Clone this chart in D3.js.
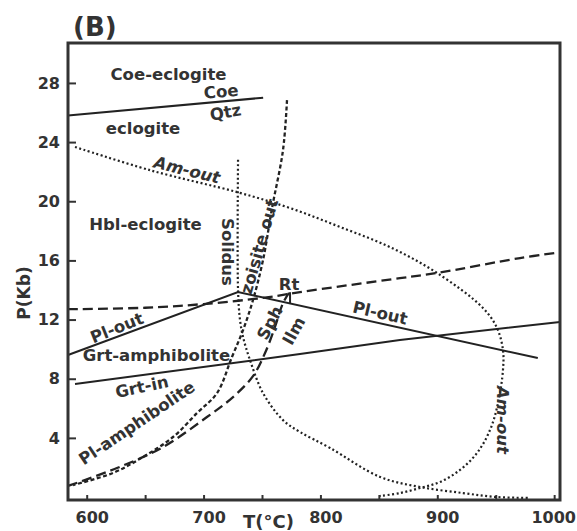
<!DOCTYPE html>
<html>
<head>
<meta charset="utf-8">
<script src="https://cdn.jsdelivr.net/npm/d3@7"></script>
<style>
  body { margin: 0; background: #fff; }
  text { font-family: "DejaVu Sans", sans-serif; font-weight: bold; fill: #333; }
</style>
</head>
<body>
<div id="chart"></div>
<script>
// reaction curves, points are [T (°C), P (kbar)]
const coeQtz = [[584, 25.8], [751, 27.0]];
const plOut = [[584, 9.6], [729.5, 13.86], [986, 9.4]];
const grtIn = [[590, 7.64], [782.5, 9.67], [868, 10.62], [1005, 11.84]];
const rtOut = [[584, 12.7], [650, 12.8], [700, 13.05], [754, 13.5], [782.5, 13.86],
               [868, 14.8], [899.8, 15.15], [970.8, 16.16], [1005, 16.55]];
const sphIlm = [[584, 0.75], [625.9, 1.96], [665.3, 3.38], [702.9, 5.41], [725.2, 6.76],
                [742.3, 8.18], [752.6, 9.74], [761.1, 11.5], [768, 13.12], [773.1, 13.8]];
const rtTick = [[774, 13.85], [774, 13.05]];
const zoisiteOut = [[771.4, 26.84], [768, 23.47], [758.6, 19.54], [750.9, 16.03], [742.3, 13.32],
                    [733.8, 11.29], [724.3, 9.47], [711.5, 7.03], [694.4, 5.68], [673.9, 4.06],
                    [648.2, 2.71], [622.5, 1.63], [588.3, 0.81]];
const solidus = [[729.5, 22.8], [729.5, 14.0], [731.2, 11.97], [733.8, 10.82], [739.7, 9.27],
                 [750.9, 7.03], [768, 5.2], [782.5, 4.4], [808.2, 3.32], [851, 1.36],
                 [885.2, 0.68], [922, 0.27], [951, 0.0], [979.3, -0.06]];
const amOut = [[590, 23.67], [654.2, 22.1], [729.5, 20.6], [774, 19.54], [816.8, 18.26],
               [859.5, 16.9], [899.8, 15.15], [939.1, 12.78], [951.1, 11.43], [956.2, 9.94],
               [956.2, 8.59], [952, 6.36], [945.1, 4.53], [934, 2.98], [919.4, 1.83],
               [902.3, 1.02], [885.2, 0.61], [868.1, 0.27], [851, 0.07]];

// field and curve labels: [text, T, P]
const labels = [["Coe-eclogite", 670, 28.6], ["eclogite", 648.2, 24.95],
                ["Hbl-eclogite", 650.3, 18.46], ["Grt-amphibolite", 659.7, 9.54], ["Rt", 773.1, 14.4]];
const tiltedLabels = [["Coe", 715, 27.4, -5], ["Qtz", 718.8, 26.0, -10], ["Solidus", 720.9, 16.57, 90],
                      ["zoisite out", 747.9, 16.94, -74], ["Sph", 756.9, 11.77, -62], ["Ilm", 777.4, 11.23, -61],
                      ["Pl-out", 625.9, 11.43, -22], ["Pl-out", 851, 12.44, 13], ["Grt-in", 647.3, 7.44, -12],
                      ["Pl-amphibolite", 643, 5.0, -34]];
const italicLabels = [["Am-out", 685.8, 22.1, 14], ["Am-out", 956.2, 5.21, 90]];

const xTicks = [600, 650, 700, 750, 800, 850, 900, 950, 1000];
const yTicks = [4, 8, 12, 16, 20, 24, 28];

const margin = {top: 43, right: 17, bottom: 31, left: 68},
  width = 577 - margin.left - margin.right,
  height = 531 - margin.top - margin.bottom;

const root = d3.select("#chart").append("svg")
  .attr("width", 577)
  .attr("height", 531);

const svg = root.append("g")
  .attr("transform", "translate(" + margin.left + "," + margin.top + ")");

const x = d3.scaleLinear().domain([584, 1005]).range([0, width]);
const y = d3.scaleLinear().domain([-0.2, 30.7]).range([height, 0]);

// axes, ticks point inward
const xAxis = svg.append("g")
  .attr("transform", "translate(0," + height + ")")
  .call(d3.axisBottom(x).tickValues(xTicks).tickSize(-5).tickPadding(12)
    .tickFormat(d => d % 100 ? "" : d));
xAxis.selectAll("text")
  .attr("dx", d => d == 1000 ? -1 : 5)
  .style("font-size", "16px");

const yAxis = svg.append("g")
  .call(d3.axisLeft(y).tickValues(yTicks).tickSize(-8).tickPadding(8));
yAxis.selectAll("text").style("font-size", "16px");

svg.selectAll(".domain").remove();
svg.selectAll(".tick line").attr("stroke", "#333").attr("stroke-width", 2);

const straight = d3.line().x(d => x(d[0])).y(d => y(d[1]));
const smooth = d3.line().x(d => x(d[0])).y(d => y(d[1])).curve(d3.curveCatmullRom.alpha(0.5));

function draw(data, gen, dash, w) {
  svg.append("path")
    .datum(data)
    .attr("d", gen)
    .attr("fill", "none")
    .attr("stroke", "#222")
    .attr("stroke-width", w)
    .attr("stroke-dasharray", dash);
}

draw(coeQtz, straight, null, 2);
draw(plOut, straight, null, 2);
draw(grtIn, straight, null, 2);
draw(rtTick, straight, null, 2);
draw(rtOut, smooth, "10,5", 2.3);
draw(sphIlm, smooth, "10,5", 2.3);
draw(zoisiteOut, smooth, "4,2.5", 2.3);
draw(solidus, smooth, "2,2.5", 2.2);
draw(amOut, smooth, "2,2.5", 2.2);

// frame
svg.append("rect")
  .attr("width", width)
  .attr("height", height)
  .attr("fill", "none")
  .attr("stroke", "#333")
  .attr("stroke-width", 3);

// labels
svg.selectAll(".lab")
  .data(labels)
  .join("text")
  .attr("x", d => x(d[1]))
  .attr("y", d => y(d[2]))
  .attr("text-anchor", "middle")
  .attr("dominant-baseline", "central")
  .style("font-size", "16.5px")
  .text(d => d[0]);

svg.selectAll(".tilt")
  .data(tiltedLabels.concat(italicLabels))
  .join("text")
  .attr("transform", d => "translate(" + x(d[1]) + "," + y(d[2]) + ") rotate(" + d[3] + ")")
  .attr("text-anchor", "middle")
  .attr("dominant-baseline", "central")
  .style("font-size", "16.5px")
  .style("font-style", d => italicLabels.includes(d) ? "italic" : "normal")
  .text(d => d[0]);

// panel letter and axis titles
root.append("text")
  .attr("x", 73)
  .attr("y", 36)
  .style("font-size", "26px")
  .text("(B)");

root.append("text")
  .attr("x", 243)
  .attr("y", 528)
  .style("font-size", "18px")
  .text("T(°C)");

root.append("text")
  .attr("transform", "translate(30,293) rotate(-90)")
  .attr("text-anchor", "middle")
  .style("font-size", "17px")
  .text("P(Kb)");
</script>
</body>
</html>
